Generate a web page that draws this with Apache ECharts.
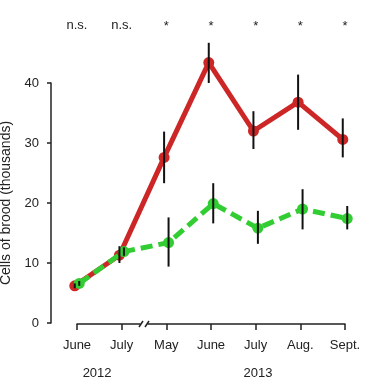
<!DOCTYPE html>
<html><head><meta charset="utf-8">
<script src="https://cdn.jsdelivr.net/npm/echarts@6/dist/echarts.min.js"></script>
<style>html,body{margin:0;padding:0;background:#fff}#c{width:369px;height:379px}</style>
</head><body><div id="c"></div>
<script>
const months = ['June','July','May','June','July','Aug.','Sept.'];
const years = ['2012','2013'];
const sigLabels = ['n.s.','n.s.','*','*','*','*','*'];
const redMean = [6.2, 11.3, 27.6, 43.4, 32.0, 36.8, 30.6];
const redLow  = [5.8, 10.0, 23.3, 40.0, 29.0, 32.2, 27.6];
const redHigh = [6.6, 12.8, 31.9, 46.7, 35.3, 41.4, 34.1];
const greenMean = [6.6, 11.9, 13.4, 19.9, 15.8, 19.0, 17.4];
const greenLow  = [6.2, 11.2, 9.4, 16.6, 13.2, 15.6, 15.6];
const greenHigh = [7.0, 12.6, 17.6, 23.3, 18.7, 22.3, 19.5];
const yTicks = [0, 10, 20, 30, 40];

const FONT = '"Liberation Sans", Arial, sans-serif';
const RED = '#CD2626', GREEN = '#32CD32';
const dodge = 0.05;

const chart = echarts.init(document.getElementById('c'));
const pts = (arr, off) => arr.map((v, i) => [i + off, v]);
const bars = (lo, hi, off) => lo.map((v, i) => [i + off, v, hi[i]]);

function errRender(params, api) {
  const x = api.value(0);
  const p1 = api.coord([x, api.value(1)]);
  const p2 = api.coord([x, api.value(2)]);
  return { type: 'line', shape: { x1: p1[0], y1: p1[1], x2: p2[0], y2: p2[1] },
           style: { stroke: '#111', lineWidth: 2 } };
}

function sigAxis(isStar, margin) {
  return { type: 'value', min: 0, max: 6, interval: 1, position: 'top',
    splitLine: { show: false }, axisLine: { show: false, onZero: false }, axisTick: { show: false },
    axisLabel: { margin: margin, fontSize: 13, color: '#222', fontFamily: FONT,
                 showMinLabel: true, showMaxLabel: true,
                 formatter: v => { const s = sigLabels[Math.round(v)] || '';
                                   return ((s === '*') === isStar) ? s : ''; } } };
}

chart.setOption({
  animation: false,
  textStyle: { fontFamily: FONT },
  grid: { left: 77, right: 24, top: 83, bottom: 56, containLabel: false, outerBoundsMode: 'none' },
  xAxis: [
    { type: 'value', min: 0, max: 6, interval: 1, position: 'bottom', offset: 1,
      splitLine: { show: false },
      axisLine: { show: true, onZero: false, lineStyle: { color: '#222', width: 1.5 } },
      axisTick: { show: true, length: 6, lineStyle: { color: '#222', width: 1.5 } },
      axisLabel: { margin: 15, fontSize: 13, color: '#222', fontFamily: FONT,
                   showMinLabel: true, showMaxLabel: true,
                   formatter: v => months[Math.round(v)] } },
    sigAxis(false, 51),
    sigAxis(true, 50)
  ],
  yAxis: {
    type: 'value', min: yTicks[0], max: yTicks[yTicks.length - 1], interval: 10, offset: 26,
    name: 'Cells of brood (thousands)', nameLocation: 'middle', nameRotate: 90, nameGap: 34,
    nameTextStyle: { fontSize: 14, color: '#222', fontFamily: FONT },
    splitLine: { show: false },
    axisLine: { show: true, onZero: false, lineStyle: { color: '#222', width: 1.5 } },
    axisTick: { show: true, length: 4, lineStyle: { color: '#222', width: 1.5 } },
    axisLabel: { margin: 12, fontSize: 13, color: '#222', fontFamily: FONT }
  },
  series: [
    { type: 'line', data: pts(redMean, -dodge), clip: false, z: 2,
      symbol: 'circle', symbolSize: 11, itemStyle: { color: RED },
      lineStyle: { color: RED, width: 5 } },
    { type: 'line', data: pts(greenMean, dodge), clip: false, z: 3,
      symbol: 'circle', symbolSize: 11, itemStyle: { color: GREEN },
      lineStyle: { color: GREEN, width: 5, type: [12, 6] } },
    { type: 'custom', data: bars(redLow, redHigh, -dodge), renderItem: errRender, clip: false, z: 5,
      encode: { x: 0, y: [1, 2] } },
    { type: 'custom', data: bars(greenLow, greenHigh, dodge), renderItem: errRender, clip: false, z: 5,
      encode: { x: 0, y: [1, 2] } }
  ]
});

// axis break mark and year labels positioned through the axis scale
const b = chart.convertToPixel({ gridIndex: 0 }, [1.5, 0]);
const axisY = b[1] + 1;
const y2012 = chart.convertToPixel({ gridIndex: 0 }, [0.45, 0]);
const y2013 = chart.convertToPixel({ gridIndex: 0 }, [4.05, 0]);
chart.setOption({
  graphic: [
    { type: 'rect', shape: { x: b[0] - 3.5, y: axisY - 2, width: 7, height: 4 }, style: { fill: '#fff' }, z: 100 },
    { type: 'line', shape: { x1: b[0] - 5, y1: axisY + 3, x2: b[0] - 1, y2: axisY - 3 }, style: { stroke: '#222', lineWidth: 1.5 }, z: 101 },
    { type: 'line', shape: { x1: b[0] + 1, y1: axisY + 3, x2: b[0] + 5, y2: axisY - 3 }, style: { stroke: '#222', lineWidth: 1.5 }, z: 101 },
    { type: 'text', x: y2012[0], y: axisY + 49, style: { text: years[0], font: '13px ' + FONT, fill: '#222', textAlign: 'center', textVerticalAlign: 'middle' }, z: 101 },
    { type: 'text', x: y2013[0], y: axisY + 49, style: { text: years[1], font: '13px ' + FONT, fill: '#222', textAlign: 'center', textVerticalAlign: 'middle' }, z: 101 }
  ]
});
</script></body></html>
